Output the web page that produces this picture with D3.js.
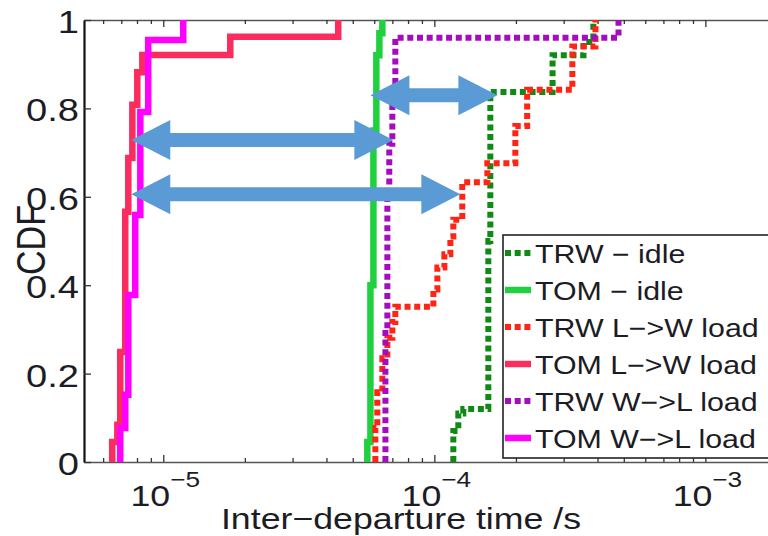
<!DOCTYPE html>
<html>
<head>
<meta charset="utf-8">
<script src="https://cdn.jsdelivr.net/npm/d3@7"></script>
<style>
  body { margin: 0; background: #fff; }
  text { font-family: "Liberation Sans", Arial, sans-serif; fill: #1c1c24; }
</style>
</head>
<body>
<svg id="chart" width="768" height="536"></svg>
<script>
// step positions (s) and CDF level reached at each step
const trwIdleX = [1.175e-4, 1.226e-4, 1.279e-4, 1.582e-4, 1.609e-4, 2.73e-4, 3.55e-4, 3.86e-4];
const trwIdleY = [0.07, 0.11, 0.12, 0.50, 0.837, 0.92, 0.95, 1];

const tomIdleX = [5.66e-5, 5.81e-5, 5.96e-5, 6.11e-5, 6.27e-5, 6.43e-5];
const tomIdleY = [0.045, 0.40, 0.75, 0.92, 0.97, 1];

const trwLWX = [6.06e-5, 6.16e-5, 6.43e-5, 6.71e-5, 7.00e-5, 7.18e-5, 9.92e-5, 1.026e-4, 1.089e-4,
                1.146e-4, 1.175e-4, 1.268e-4, 1.569e-4, 1.99e-4, 2.20e-4, 3.23e-4, 3.93e-4];
const trwLWY = [0.077, 0.158, 0.235, 0.281, 0.317, 0.351, 0.39, 0.44, 0.47,
                0.51, 0.548, 0.633, 0.676, 0.76, 0.842, 0.94, 1];

const tomLWX = [6.48e-6, 6.77e-6, 6.94e-6, 7.24e-6, 7.43e-6, 7.69e-6, 8.02e-6, 8.37e-6, 1.767e-5, 4.42e-5];
const tomLWY = [0.045, 0.084, 0.249, 0.566, 0.688, 0.808, 0.882, 0.921, 0.962, 1];

const trwWLX = [6.60e-5, 6.71e-5, 6.82e-5, 7.00e-5, 7.18e-5, 4.78e-4];
const trwWLY = [0.30, 0.60, 0.72, 0.83, 0.96, 1];

const tomWLX = [6.94e-6, 7.24e-6, 7.43e-6, 7.88e-6, 8.23e-6, 8.80e-6, 1.185e-5];
const tomWLY = [0.077, 0.152, 0.378, 0.559, 0.792, 0.955, 1];

const seriesNames = ["TRW − idle", "TOM − idle", "TRW L−>W load", "TOM L−>W load", "TRW W−>L load", "TOM W−>L load"];

const yTicks = [0, 0.2, 0.4, 0.6, 0.8, 1];
const yTickLabels = ["0", "0.2", "0.4", "0.6", "0.8", "1"];
const xMajorTicks = [1e-5, 1e-4, 1e-3];
const xTickExponents = ["−5", "−4", "−3"];

// blue double arrows (annotation), in data units
const arrowFrom = [7.62e-6, 7.62e-6, 5.81e-5];
const arrowTo = [7.06e-5, 1.247e-4, 1.708e-4];
const arrowLevel = [0.7285, 0.606, 0.830];

const colors = ["#0f8a14", "#1fd13e", "#ff2414", "#fb2c5e", "#a40cbd", "#ff00ff"];
const dotted = [true, false, true, false, true, false];

const series = [
  [trwIdleX, trwIdleY], [tomIdleX, tomIdleY], [trwLWX, trwLWY],
  [tomLWX, tomLWY], [trwWLX, trwWLY], [tomWLX, tomWLY]
].map(([xs, ys], i) => ({
  name: seriesNames[i],
  pts: [[xs[0], 0]].concat(xs.map((v, j) => [v, ys[j]]))
}));

const SX = 1.19; // the figure text is a bit wider than tall

const svg = d3.select("#chart");
const pLeft = 84, pTop = 20, pBottom = 462, pRight = 787;

const x = d3.scaleLog().domain([5.1e-6, 2e-3]).range([pLeft, pRight]);
const y = d3.scaleLinear().domain([0, 1]).range([pBottom, pTop]);

// minor ticks = log ticks that are not decades
const minorTicks = x.ticks().filter(t => !xMajorTicks.some(m => Math.abs(t / m - 1) < 1e-6));

function tickStyle(g, col) {
  g.select(".domain").attr("stroke", col).attr("stroke-width", 1.5);
  g.selectAll(".tick line").attr("stroke", "#333").attr("stroke-width", 1.3);
}

// x axes (bottom + top), ticks pointing inside
svg.append("g").attr("transform", `translate(0,${pBottom})`)
  .call(d3.axisBottom(x).tickValues(xMajorTicks).tickSizeInner(-7).tickSizeOuter(0).tickFormat(""))
  .call(g => tickStyle(g, "#555"));
svg.append("g").attr("transform", `translate(0,${pBottom})`)
  .call(d3.axisBottom(x).tickValues(minorTicks).tickSizeInner(-4).tickSizeOuter(0).tickFormat(""))
  .call(g => { g.select(".domain").remove(); tickStyle(g, "#555"); });
svg.append("g").attr("transform", `translate(0,${pTop})`)
  .call(d3.axisTop(x).tickValues(xMajorTicks).tickSizeInner(-7).tickSizeOuter(0).tickFormat(""))
  .call(g => tickStyle(g, "#555"));
svg.append("g").attr("transform", `translate(0,${pTop})`)
  .call(d3.axisTop(x).tickValues(minorTicks).tickSizeInner(-4).tickSizeOuter(0).tickFormat(""))
  .call(g => { g.select(".domain").remove(); tickStyle(g, "#555"); });

// y axis
svg.append("g").attr("transform", `translate(${pLeft},0)`)
  .call(d3.axisLeft(y).tickValues(yTicks).tickSizeInner(-7).tickSizeOuter(0).tickFormat(""))
  .call(g => { tickStyle(g, "#111"); g.select(".domain").attr("stroke-width", 2.2); });

// CDF step lines
const line = d3.line().x(d => x(d[0])).y(d => y(d[1])).curve(d3.curveStepAfter);

svg.append("g").selectAll("path")
  .data(series)
  .join("path")
  .attr("d", d => line(d.pts))
  .attr("fill", "none")
  .attr("stroke", (d, i) => colors[i])
  .attr("stroke-width", (d, i) => dotted[i] ? 6 : 6.5)
  .attr("stroke-dasharray", (d, i) => dotted[i] ? "6 3.7" : null)
  .attr("stroke-linejoin", "miter");

// y tick labels
svg.append("g").selectAll("text")
  .data(yTicks)
  .join("text")
  .attr("transform", d => `translate(79,${y(d) + 13}) scale(${SX},1)`)
  .attr("text-anchor", "end")
  .attr("font-size", 32)
  .text((d, i) => yTickLabels[i]);

// x tick labels 10^n
const xl = svg.append("g").selectAll("text")
  .data(xMajorTicks)
  .join("text")
  .attr("transform", d => `translate(${x(d) + 2},506) scale(${SX},1)`)
  .attr("text-anchor", "middle");
xl.append("tspan").attr("font-size", 30).text("10");
xl.append("tspan").attr("font-size", 22).attr("dy", -19).text((d, i) => xTickExponents[i]);

// axis titles
svg.append("text")
  .attr("transform", `translate(401,529) scale(${SX},1)`)
  .attr("text-anchor", "middle")
  .attr("font-size", 30)
  .text("Inter−departure time /s");

svg.append("text")
  .attr("transform", `translate(45,240) scale(${SX},1) rotate(-90)`)
  .attr("text-anchor", "middle")
  .attr("font-size", 34)
  .text("CDF");

// legend
const legX = 503, legY = 235, legRow = 37;
const leg = svg.append("g");
leg.append("rect")
  .attr("x", legX).attr("y", legY)
  .attr("width", 320).attr("height", 223)
  .attr("fill", "#fff").attr("stroke", "#222").attr("stroke-width", 1.6);

const rows = leg.selectAll("g.row")
  .data(series)
  .join("g")
  .attr("class", "row")
  .attr("transform", (d, i) => `translate(0,${legY + 18 + i * legRow})`);
rows.append("line")
  .attr("x1", legX + 2).attr("x2", legX + 28)
  .attr("stroke", (d, i) => colors[i])
  .attr("stroke-width", (d, i) => dotted[i] ? 6 : 6.5)
  .attr("stroke-dasharray", (d, i) => dotted[i] ? "6 3.7" : null);
rows.append("text")
  .attr("transform", `translate(${legX + 32},9.5) scale(${SX},1)`)
  .attr("font-size", 25.5)
  .text(d => d.name);

// blue double arrows
const ST = 7, HH = 20, HL = 39;
svg.append("g").selectAll("polygon")
  .data(arrowLevel)
  .join("polygon")
  .attr("fill", "#5b9bd5")
  .attr("points", (lv, i) => {
    const a = x(arrowFrom[i]), b = x(arrowTo[i]), c = y(lv);
    return [
      [a, c], [a + HL, c - HH], [a + HL, c - ST], [b - HL, c - ST], [b - HL, c - HH],
      [b, c], [b - HL, c + HH], [b - HL, c + ST], [a + HL, c + ST], [a + HL, c + HH]
    ].map(p => p.join(",")).join(" ");
  });
</script>
</body>
</html>
